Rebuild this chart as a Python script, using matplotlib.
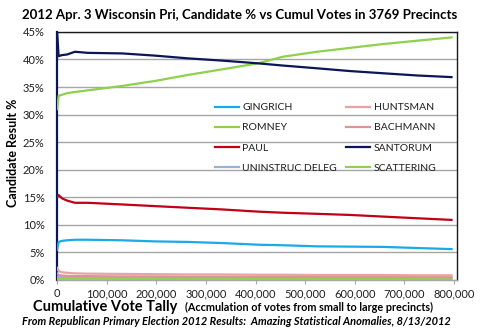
import matplotlib
matplotlib.use("Agg")
import matplotlib.pyplot as plt
from matplotlib.ticker import FuncFormatter, MultipleLocator

# Cumulative vote tally (x) and candidate share in percent (y)
votes = [0, 3000, 10000, 20000, 36000, 62000, 131000, 197000, 264000,
         332000, 405000, 455000, 524000, 590000, 657000, 725000, 795000]

santorum = [45.0, 40.6, 40.8, 40.9, 41.4, 41.2, 41.1, 40.7, 40.2,
            39.8, 39.3, 38.9, 38.4, 37.9, 37.5, 37.1, 36.8]
romney = [31.0, 33.4, 33.6, 33.9, 34.1, 34.4, 35.2, 36.1, 37.2,
          38.2, 39.3, 40.5, 41.4, 42.1, 42.8, 43.4, 44.0]
paul = [15.0, 15.4, 14.8, 14.4, 14.0, 14.0, 13.7, 13.4, 13.1,
        12.8, 12.4, 12.2, 12.0, 11.8, 11.5, 11.2, 10.9]
gingrich = [5.5, 6.9, 7.1, 7.2, 7.3, 7.3, 7.2, 7.0, 6.9,
            6.7, 6.4, 6.3, 6.1, 6.05, 6.0, 5.8, 5.6]
huntsman = [2.2, 1.6, 1.4, 1.3, 1.2, 1.15, 1.1, 1.05, 1.0,
            1.0, 0.95, 0.95, 0.9, 0.9, 0.9, 0.85, 0.85]
bachmann = [1.2, 0.9, 0.8, 0.75, 0.7, 0.7, 0.65, 0.65, 0.6,
            0.6, 0.6, 0.6, 0.55, 0.55, 0.55, 0.55, 0.5]
uninstruc = [0.6, 0.5, 0.5, 0.5, 0.45, 0.45, 0.45, 0.45, 0.45,
             0.45, 0.45, 0.45, 0.4, 0.4, 0.4, 0.4, 0.4]
scattering = [0.2, 0.15, 0.15, 0.15, 0.15, 0.15, 0.15, 0.15, 0.15,
              0.15, 0.15, 0.15, 0.15, 0.15, 0.15, 0.15, 0.15]

names = ["GINGRICH", "HUNTSMAN", "ROMNEY", "BACHMANN",
         "PAUL", "SANTORUM", "UNINSTRUC DELEG", "SCATTERING"]
series = [gingrich, huntsman, romney, bachmann,
          paul, santorum, uninstruc, scattering]
colors = ["#1AAAE8", "#E8A3A3", "#8ED14B", "#D99694",
          "#C00018", "#0B1557", "#95B3D7", "#92D050"]

xticks = [0, 100000, 200000, 300000, 400000, 500000, 600000, 700000, 800000]

plt.rcParams["font.family"] = ["Lato", "DejaVu Sans"]

fig = plt.figure(figsize=(4.8, 3.29), dpi=100)
ax = fig.add_axes([0.119, 0.149, 0.833, 0.754])

lines = {}
draw_order = [6, 7, 3, 1, 0, 4, 2, 5]
for i in draw_order:
    ln, = ax.plot(votes, series[i], color=colors[i], lw=1.6,
                  solid_joinstyle="round", zorder=3)
    lines[i] = ln

ax.set_xlim(0, 806000)
ax.set_ylim(0, 45)
ax.yaxis.set_major_locator(MultipleLocator(5))
ax.yaxis.set_major_formatter(FuncFormatter(lambda v, p: f"{v:.0f}%"))
ax.set_xticks(xticks)
ax.xaxis.set_major_formatter(FuncFormatter(lambda v, p: f"{v:,.0f}"))
ax.grid(axis="y", color="#A6A6A6", lw=1.0, zorder=1)
ax.tick_params(axis="y", length=0, labelsize=8, colors="#1F1F1F", pad=9)
ax.tick_params(axis="x", length=3, color="#A6A6A6", labelsize=8,
               labelcolor="#1F1F1F", pad=3)

for side in ("top", "right"):
    ax.spines[side].set_color("#1A1A1A")
    ax.spines[side].set_linewidth(1.0)
ax.spines["left"].set_color("#0B1557")
ax.spines["left"].set_linewidth(1.6)
ax.spines["bottom"].set_color("#A6A6A6")
ax.spines["bottom"].set_linewidth(1.0)

# Legend laid out column by column
order = [0, 2, 4, 6, 1, 3, 5, 7]
leg = ax.legend([lines[i] for i in order], [names[i] for i in order],
                ncol=2, frameon=False, loc="upper left",
                bbox_to_anchor=(0.3825, 0.735), fontsize=7.5,
                handlelength=2.3, handletextpad=0.3,
                columnspacing=0.9, labelspacing=1.05, borderpad=0)
for t in leg.get_texts():
    t.set_color("#1F1F1F")

fig.text(0.5, 0.935,
         "2012 Apr. 3 Wisconsin Pri, Candidate % vs Cumul Votes in 3769 Precincts",
         ha="center", va="bottom", fontsize=9.55, fontweight="bold")
fig.text(0.028, 0.535, "Candidate Result %", rotation=90, ha="center",
         va="center", fontsize=9, fontweight="bold")
fig.text(0.068, 0.066, "Cumulative Vote Tally", ha="left", va="center",
         fontsize=10.5, fontweight="bold")
fig.text(0.385, 0.066, "(Accmulation of votes from small to large precincts)",
         ha="left", va="center", fontsize=7.8, fontweight="bold")
fig.text(0.045, 0.022,
         "From Republican Primary Election 2012 Results:  Amazing Statistical Anomalies, 8/13/2012",
         ha="left", va="center", fontsize=7.95, fontweight="bold", style="italic")

fig.savefig("out.png", dpi=100)
